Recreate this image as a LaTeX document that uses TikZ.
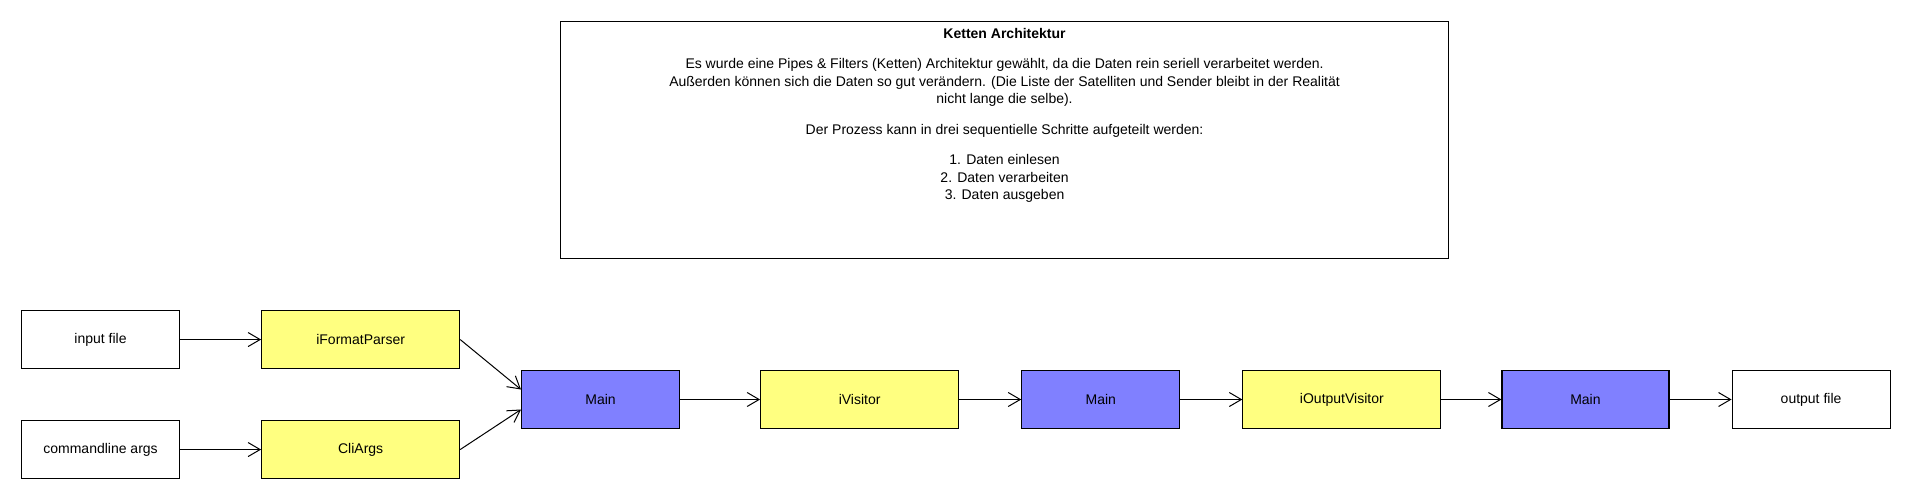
\documentclass[tikz,border=0pt]{standalone}
\usepackage{fontspec}
\setmainfont{Liberation Sans}
\usetikzlibrary{arrows.meta}
\usetikzlibrary{positioning}
\definecolor{filteryellow}{HTML}{FFFF80}
\definecolor{mainblue}{HTML}{8080FF}

\begin{document}
\begin{tikzpicture}[
        x=1pt, y=-1pt,
        node distance=62pt,
        block/.style={draw, line width=1.1pt, minimum height=58pt, minimum width=158pt, inner sep=0pt, font=\fontsize{14}{17.5}\selectfont},
        filter/.style={block, fill=filteryellow, minimum width=198pt},
        mainblock/.style={block, fill=mainblue},
        arrow/.style={-{Straight Barb[length=12pt,width=14pt]}, line width=1pt},
    ]
    \useasboundingbox (0,0) rectangle (1910,500);

    % description
    \node[draw, line width=1.1pt, minimum width=888pt, minimum height=237pt, inner sep=0pt, anchor=north west] (note) at (560,21) {};
    \node[anchor=north, align=center, inner sep=0pt, font=\fontsize{14}{17.5}\selectfont] (notetext) at ([yshift=-7pt]note.north) {%
        \textbf{Ketten Architektur}\\[13pt]
        Es wurde eine Pipes \& Filters (Ketten) Architektur gewählt, da die Daten rein seriell verarbeitet werden.\\
        Außerden können sich die Daten so gut verändern. (Die Liste der Satelliten und Sender bleibt in der Realität\\
        nicht lange die selbe).\\[13pt]
        Der Prozess kann in drei sequentielle Schritte aufgeteilt werden:\\[13pt]
        1. Daten einlesen\\
        2. Daten verarbeiten\\
        3. Daten ausgeben};

    % inputs
    \node[block, anchor=north west] (infile) at (21,310) {input file};
    \node[block, anchor=north west] (cmdline) at (21,420) {commandline args};
    \node[filter, right=81pt of infile] (parser) {iFormatParser};
    \node[filter, right=81pt of cmdline] (cliargs) {CliArgs};

    % chain
    \node[mainblock, anchor=west] (mainA) at (521,399.5) {Main};
    \node[filter, right=80pt of mainA] (visitor) {iVisitor};
    \node[mainblock, right=of visitor] (mainB) {Main};
    \node[filter, right=of mainB] (outvisitor) {iOutputVisitor};
    \node[mainblock, right=60pt of outvisitor, minimum width=167pt] (mainC) {Main};
    \node[block, right=62pt of mainC] (outfile) {output file};

    \draw[arrow] (infile) -- (parser);
    \draw[arrow] (cmdline) -- (cliargs);
    \draw[arrow] (parser.east) -- ([yshift=10pt]mainA.west);
    \draw[arrow] (cliargs.east) -- ([yshift=-10pt]mainA.west);
    \draw[arrow] (mainA) -- (visitor);
    \draw[arrow] (visitor) -- (mainB);
    \draw[arrow] (mainB) -- (outvisitor);
    \draw[arrow] (outvisitor) -- (mainC);
    \draw[arrow] (mainC) -- (outfile);
\end{tikzpicture}
\end{document}
